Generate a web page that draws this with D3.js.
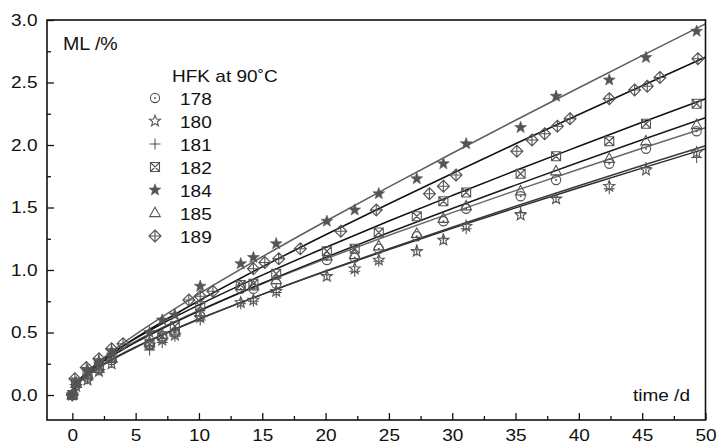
<!DOCTYPE html>
<html>
<head>
<meta charset="utf-8">
<script src="https://cdn.jsdelivr.net/npm/d3@7"></script>
<style>
  body { margin: 0; background: #fff; }
  svg { display: block; }
</style>
</head>
<body>
<svg id="chart" width="717" height="446"></svg>
<script>
// Mass loss (ML, %) of HFK samples stored at 90 °C versus time (days)

// measurement days shared by samples 178, 180, 181, 182, 184, 185
const timesA = [0, 0.3, 1.2, 2.1, 3.1, 6.1, 7.1, 8.1, 10.1, 13.3, 14.3, 16.1, 20.1, 22.3, 24.2,
                27.2, 29.3, 31.1, 35.4, 38.2, 42.4, 45.3, 49.3];
// measurement days of sample 189
const times189 = [0, 0.2, 1.1, 2.1, 3.1, 4.0, 9.2, 10.1, 11.1, 14.3, 15.2, 16.3, 18.0, 21.2, 24.0,
                  28.2, 29.3, 30.3, 35.1, 36.3, 37.3, 38.3, 39.3, 42.4, 44.4, 45.4, 46.4, 49.4];

const ml178 = [0, 0.08, 0.14, 0.21, 0.28, 0.40, 0.46, 0.50, 0.63, 0.85, 0.85, 0.89, 1.08, 1.10, 1.17,
               1.27, 1.39, 1.49, 1.59, 1.72, 1.85, 1.97, 2.11];
const ml180 = [0, 0.07, 0.12, 0.19, 0.25, 0.40, 0.44, 0.48, 0.62, 0.74, 0.76, 0.83, 0.95, 1.01, 1.08,
               1.15, 1.24, 1.35, 1.44, 1.57, 1.67, 1.80, 1.94];
const ml181 = [0, 0.06, 0.13, 0.20, 0.26, 0.36, 0.42, 0.47, 0.60, 0.73, 0.75, 0.82, 0.96, 0.99, 1.07,
               1.16, 1.25, 1.33, 1.46, 1.58, 1.65, 1.82, 1.90];
const ml182 = [0, 0.10, 0.17, 0.23, 0.30, 0.41, 0.47, 0.55, 0.71, 0.88, 0.89, 0.97, 1.15, 1.17, 1.30,
               1.43, 1.55, 1.62, 1.77, 1.91, 2.03, 2.17, 2.33];
const ml184 = [0, 0.10, 0.20, 0.27, 0.35, 0.50, 0.60, 0.64, 0.87, 1.05, 1.10, 1.21, 1.39, 1.48, 1.61,
               1.73, 1.85, 2.01, 2.14, 2.39, 2.52, 2.70, 2.91];
const ml185 = [0, 0.09, 0.15, 0.21, 0.29, 0.42, 0.48, 0.51, 0.66, 0.87, 0.87, 0.92, 1.11, 1.12, 1.19,
               1.29, 1.41, 1.51, 1.63, 1.79, 1.89, 2.03, 2.16];
const ml189 = [0, 0.13, 0.22, 0.29, 0.37, 0.41, 0.76, 0.79, 0.83, 1.01, 1.06, 1.09, 1.17, 1.31, 1.48,
               1.61, 1.67, 1.76, 1.95, 2.04, 2.09, 2.15, 2.21, 2.37, 2.44, 2.47, 2.54, 2.69];

// fitted curves, sampled at these days
const fitTimes = [0, 0.5, 1, 2, 3, 5, 7, 10, 15, 20, 25, 30, 35, 40, 45, 50];
const fit178 = [0, 0.112, 0.165, 0.246, 0.314, 0.431, 0.535, 0.676, 0.890, 1.089, 1.278, 1.459, 1.635, 1.806, 1.974, 2.139];
const fit180 = [0, 0.098, 0.144, 0.217, 0.278, 0.384, 0.478, 0.608, 0.805, 0.989, 1.164, 1.333, 1.497, 1.658, 1.815, 1.970];
const fit181 = [0, 0.095, 0.141, 0.213, 0.274, 0.380, 0.475, 0.605, 0.805, 0.992, 1.170, 1.342, 1.510, 1.674, 1.836, 1.994];
const fit182 = [0, 0.114, 0.169, 0.255, 0.327, 0.453, 0.566, 0.721, 0.959, 1.180, 1.392, 1.596, 1.796, 1.990, 2.182, 2.370];
const fit184 = [0, 0.108, 0.165, 0.258, 0.339, 0.485, 0.619, 0.809, 1.106, 1.390, 1.665, 1.934, 2.198, 2.458, 2.715, 2.970];
const fit185 = [0, 0.105, 0.156, 0.236, 0.303, 0.421, 0.526, 0.671, 0.894, 1.101, 1.300, 1.492, 1.679, 1.862, 2.042, 2.219];
const fit189 = [0, 0.105, 0.159, 0.246, 0.322, 0.457, 0.580, 0.754, 1.025, 1.282, 1.530, 1.772, 2.010, 2.244, 2.474, 2.703];

const xTicks = [0, 5, 10, 15, 20, 25, 30, 35, 40, 45, 50];
const xMinorTicks = [2.5, 7.5, 12.5, 17.5, 22.5, 27.5, 32.5, 37.5, 42.5, 47.5];
const yTicks = [0, 0.5, 1.0, 1.5, 2.0, 2.5, 3.0];
const yMinorTicks = [0.25, 0.75, 1.25, 1.75, 2.25, 2.75];

const sampleNames = ["178", "180", "181", "182", "184", "185", "189"];
const legendTitle = "HFK at 90˚C";
const yTitle = "ML /%";
const xTitle = "time /d";

// series table
const series = [
  { name: "178", t: timesA,   v: ml178, fit: fit178, symbol: "circleDot",   line: "#6a6a6a" },
  { name: "180", t: timesA,   v: ml180, fit: fit180, symbol: "starOpen",    line: "#2a2a2a" },
  { name: "181", t: timesA,   v: ml181, fit: fit181, symbol: "plus",        line: "#3a3a3a" },
  { name: "182", t: timesA,   v: ml182, fit: fit182, symbol: "squareX",     line: "#111" },
  { name: "184", t: timesA,   v: ml184, fit: fit184, symbol: "starFilled",  line: "#5e5e5e" },
  { name: "185", t: timesA,   v: ml185, fit: fit185, symbol: "triangle",    line: "#1a1a1a" },
  { name: "189", t: times189, v: ml189, fit: fit189, symbol: "diamondPlus", line: "#111" }
];

const FONT = "'Liberation Sans', Arial, Helvetica, sans-serif";
const SX = 1.12;            // slightly wide lettering
const MARK = "#555";

const svg = d3.select("#chart");
const L = 47, R = 705.5, T = 20, B = 420;
const x = d3.scaleLinear().domain([-2, 50]).range([L, R]);
const y = d3.scaleLinear().domain([-0.2, 3.0]).range([B, T]);

svg.append("rect").attr("width", 717).attr("height", 446).attr("fill", "#fff");

// symbol path builders (centred at 0,0)
function starPath(ro, ri) {
  const pts = [];
  for (let i = 0; i < 10; i++) {
    const a = -Math.PI / 2 + i * Math.PI / 5;
    const r = i % 2 === 0 ? ro : ri;
    pts.push([r * Math.cos(a), r * Math.sin(a)]);
  }
  return "M" + pts.map(p => p[0].toFixed(2) + "," + p[1].toFixed(2)).join("L") + "Z";
}
function drawSymbol(g, kind) {
  const sw = 1.1;
  if (kind === "circleDot") {
    g.append("circle").attr("r", 4.6).attr("fill", "none").attr("stroke", MARK).attr("stroke-width", sw);
    g.append("circle").attr("r", 1.0).attr("fill", MARK);
  } else if (kind === "starOpen") {
    g.append("path").attr("d", starPath(5.8, 2.5)).attr("fill", "none").attr("stroke", MARK).attr("stroke-width", sw);
  } else if (kind === "starFilled") {
    g.append("path").attr("d", starPath(6.2, 2.6)).attr("fill", MARK).attr("stroke", MARK).attr("stroke-width", 0.6);
  } else if (kind === "plus") {
    g.append("path").attr("d", "M-5.5,0H5.5M0,-5.5V5.5").attr("fill", "none").attr("stroke", MARK).attr("stroke-width", sw);
  } else if (kind === "squareX") {
    g.append("path").attr("d", "M-4.5,-4.5H4.5V4.5H-4.5ZM-4.5,-4.5L4.5,4.5M4.5,-4.5L-4.5,4.5")
      .attr("fill", "none").attr("stroke", MARK).attr("stroke-width", sw);
  } else if (kind === "triangle") {
    g.append("path").attr("d", "M0,-5.8L5.3,3.6H-5.3Z").attr("fill", "none").attr("stroke", MARK).attr("stroke-width", sw);
  } else if (kind === "diamondPlus") {
    g.append("path").attr("d", "M0,-6L6,0L0,6L-6,0ZM-6,0H6M0,-6V6")
      .attr("fill", "none").attr("stroke", MARK).attr("stroke-width", sw);
  }
}

// axes (ticks point inward)
const xAxis = svg.append("g").attr("transform", `translate(0,${B})`)
  .call(d3.axisBottom(x).tickValues(xTicks).tickSizeInner(-7).tickSizeOuter(0).tickPadding(9)
    .tickFormat(d3.format("d")));
const xMinor = svg.append("g").attr("transform", `translate(0,${B})`)
  .call(d3.axisBottom(x).tickValues(xMinorTicks).tickSizeInner(-4).tickSizeOuter(0).tickFormat(""));
const yAxis = svg.append("g").attr("transform", `translate(${L},0)`)
  .call(d3.axisLeft(y).tickValues(yTicks).tickSizeInner(-7).tickSizeOuter(0).tickPadding(8.5)
    .tickFormat(d3.format(".1f")));
const yMinor = svg.append("g").attr("transform", `translate(${L},0)`)
  .call(d3.axisLeft(y).tickValues(yMinorTicks).tickSizeInner(-4).tickSizeOuter(0).tickFormat(""));

[xAxis, xMinor, yAxis, yMinor].forEach(a => {
  a.select(".domain").remove();
  a.selectAll("line").attr("stroke", "#111").attr("stroke-width", 1.3);
  a.selectAll("text").attr("font-family", FONT).attr("font-size", 17).attr("fill", "#111")
    .attr("transform", `scale(${SX},1)`);
});

// clipping to the plot frame
svg.append("clipPath").attr("id", "plotClip")
  .append("rect").attr("x", L).attr("y", T).attr("width", R - L).attr("height", B - T);
const plot = svg.append("g").attr("clip-path", "url(#plotClip)");

// fitted curves
const lineGen = d3.line().x(d => x(d[0])).y(d => y(d[1])).curve(d3.curveMonotoneX);
series.forEach(s => {
  plot.append("path")
    .datum(fitTimes.map((t, i) => [t, s.fit[i]]))
    .attr("d", lineGen)
    .attr("fill", "none").attr("stroke", s.line).attr("stroke-width", 1.5);
});

// data points
series.forEach(s => {
  s.t.forEach((t, i) => {
    const g = plot.append("g").attr("transform", `translate(${x(t)},${y(s.v[i])})`);
    drawSymbol(g, s.symbol);
  });
});

// frame
svg.append("rect").attr("x", L).attr("y", T).attr("width", R - L).attr("height", B - T)
  .attr("fill", "none").attr("stroke", "#111").attr("stroke-width", 1.6);

// text helper with slightly widened lettering
function label(px, py, str, size, anchor) {
  svg.append("text")
    .attr("transform", `translate(${px},${py}) scale(${SX},1)`)
    .attr("font-family", FONT).attr("font-size", size).attr("fill", "#111")
    .attr("text-anchor", anchor || "start")
    .text(str);
}

label(63, 50, yTitle, 17.5);
label(690, 401, xTitle, 17, "end");
label(172, 82, legendTitle, 17);

// legend
const legY0 = 98, legStep = 23;
series.forEach((s, i) => {
  const ly = legY0 + i * legStep;
  const g = svg.append("g").attr("transform", `translate(155,${ly})`);
  drawSymbol(g, s.symbol);
  label(180, ly + 6.5, sampleNames[i], 17);
});
</script>
</body>
</html>
